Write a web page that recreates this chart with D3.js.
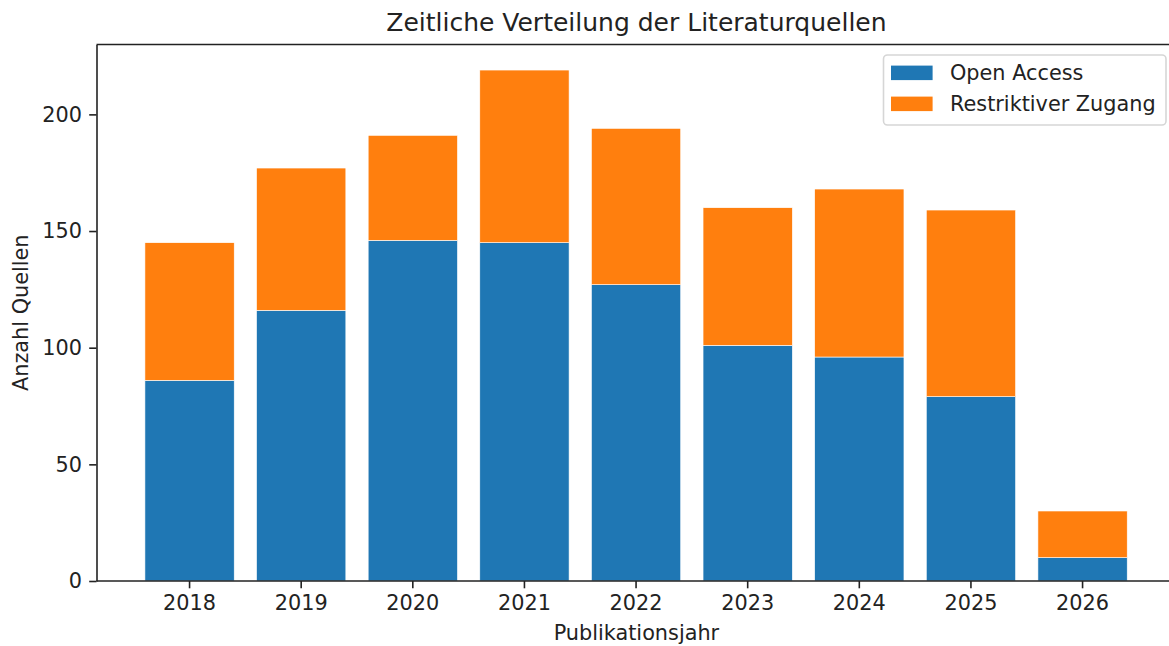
<!DOCTYPE html>
<html>
<head>
<meta charset="utf-8">
<script src="https://cdn.jsdelivr.net/npm/d3@7"></script>
<style>
  body { margin: 0; background: #fff; }
  svg { display: block; font-family: "DejaVu Sans", sans-serif; }
</style>
</head>
<body>
<div id="chart"></div>
<script>
const years = ["2018", "2019", "2020", "2021", "2022", "2023", "2024", "2025", "2026"];
const openAccess = [86, 116, 146, 145, 127, 101, 96, 79, 10];
const restricted = [59, 61, 45, 74, 67, 59, 72, 80, 20];
const seriesNames = ["Open Access", "Restriktiver Zugang"];
const colors = ["#1f77b4", "#ff7f0e"];
const yTicks = [0, 50, 100, 150, 200];

const width = 1169, height = 646;
const plot = {left: 96.5, top: 44.5, bottom: 581, step: 111.625};
const fs = 20.8;

const svg = d3.select("#chart").append("svg")
  .attr("width", width).attr("height", height);

// stacked rows
const rows = years.map((y, i) => ({year: y, oa: openAccess[i], rz: restricted[i]}));
const stacked = d3.stack().keys(["oa", "rz"])(rows);

const x = d3.scaleBand()
  .domain(years)
  .range([plot.left - 0.7, plot.left - 0.7 + plot.step * 9.68])
  .paddingInner(0.2)
  .paddingOuter(0.44);

const yMax = d3.max(rows, d => d.oa + d.rz) * 1.05;
const y = d3.scaleLinear().domain([0, yMax]).range([plot.bottom, plot.top]);

const right = x.range()[1];

// bars
svg.append("g").selectAll("g")
  .data(stacked)
  .enter().append("g")
  .attr("fill", (d, i) => colors[i])
  .selectAll("rect")
  .data(d => d)
  .enter().append("rect")
  .attr("x", d => x(d.data.year))
  .attr("width", x.bandwidth())
  .attr("y", d => y(d[1]))
  .attr("height", d => y(d[0]) - y(d[1]))
  .attr("stroke", "#fff")
  .attr("stroke-width", 0.6);

// axes
const xAxis = svg.append("g")
  .attr("transform", "translate(0," + plot.bottom + ")")
  .call(d3.axisBottom(x).tickSize(7.3).tickPadding(7.3).tickSizeOuter(0));
const yAxis = svg.append("g")
  .attr("transform", "translate(" + plot.left + ",0)")
  .call(d3.axisLeft(y).tickValues(yTicks).tickSize(7.3).tickPadding(7.3).tickSizeOuter(0));

xAxis.select(".domain").attr("d", "M" + plot.left + ",0H" + right);
[xAxis, yAxis].forEach(a => {
  a.selectAll("path, line").attr("stroke", "#222").attr("stroke-width", 1.6);
  a.selectAll("text").attr("font-size", fs).attr("fill", "#222")
    .attr("font-family", "DejaVu Sans");
});

// top and right spines
svg.append("line").attr("x1", plot.left).attr("x2", right)
  .attr("y1", plot.top).attr("y2", plot.top)
  .attr("stroke", "#222").attr("stroke-width", 1.6);
svg.append("line").attr("x1", right).attr("x2", right)
  .attr("y1", plot.top).attr("y2", plot.bottom)
  .attr("stroke", "#222").attr("stroke-width", 1.6);

// title and labels
const cx = (plot.left + right) / 2;
svg.append("text").attr("x", cx).attr("y", 31)
  .attr("text-anchor", "middle").attr("font-size", 25).attr("fill", "#222")
  .text("Zeitliche Verteilung der Literaturquellen");
svg.append("text").attr("x", cx).attr("y", 640)
  .attr("text-anchor", "middle").attr("font-size", fs).attr("fill", "#222")
  .text("Publikationsjahr");
svg.append("text")
  .attr("transform", "translate(28," + (plot.top + plot.bottom) / 2 + ") rotate(-90)")
  .attr("text-anchor", "middle").attr("font-size", fs).attr("fill", "#222")
  .text("Anzahl Quellen");

// legend
const legend = svg.append("g");
legend.append("rect")
  .attr("x", 883.5).attr("y", 55).attr("width", 282.5).attr("height", 70)
  .attr("rx", 4).attr("fill", "#fff").attr("fill-opacity", 0.8)
  .attr("stroke", "#d6d6d6").attr("stroke-width", 1.6);
seriesNames.forEach((name, i) => {
  const cy = 72.8 + i * 31;
  legend.append("rect")
    .attr("x", 891).attr("y", cy - 7.2).attr("width", 41.6).attr("height", 14.5)
    .attr("fill", colors[i]);
  legend.append("text")
    .attr("x", 950).attr("y", cy).attr("dy", "0.36em")
    .attr("font-size", fs).attr("fill", "#222")
    .text(name);
});
</script>
</body>
</html>
